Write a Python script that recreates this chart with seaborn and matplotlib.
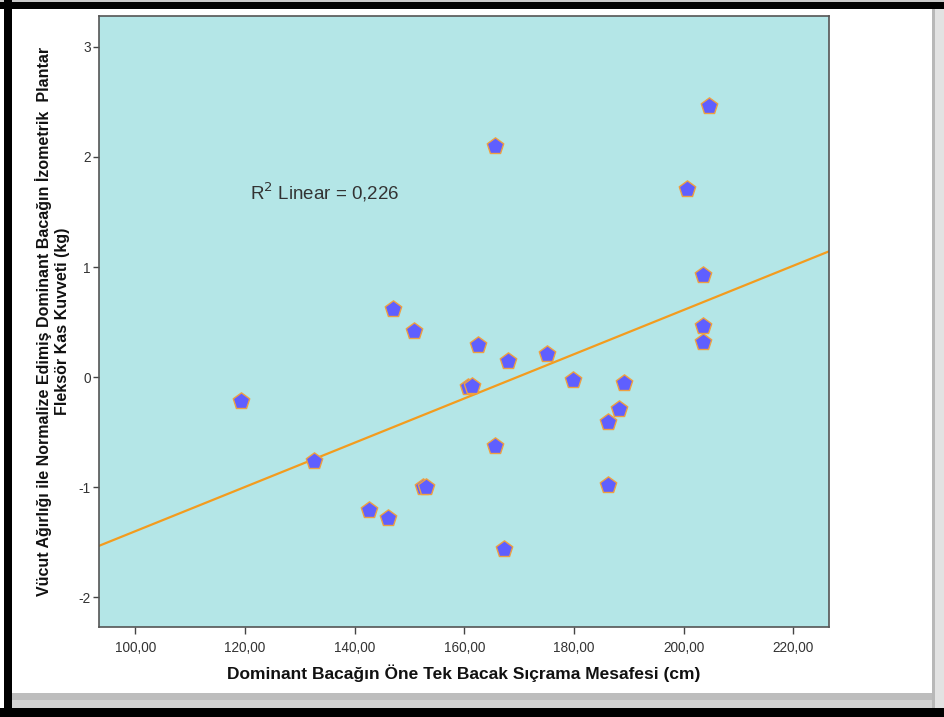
import numpy as np
import pandas as pd
import matplotlib
matplotlib.use("Agg")
import matplotlib.pyplot as plt
from matplotlib.patches import Rectangle
import seaborn as sns

# values
jump_cm = [204.7, 165.6, 200.7, 203.5, 147.0, 150.8, 203.5, 203.6, 162.5, 167.9,
           175.0, 179.8, 189.1, 160.7, 161.4, 119.3, 188.2, 186.2, 165.6, 132.6,
           152.5, 153.0, 186.2, 142.6, 146.1, 167.2]
strength_z = [2.46, 2.10, 1.71, 0.93, 0.62, 0.42, 0.46, 0.32, 0.29, 0.15,
              0.21, -0.03, -0.05, -0.09, -0.08, -0.22, -0.29, -0.41, -0.63, -0.76,
              -1.00, -1.00, -0.98, -1.21, -1.28, -1.56]
x_ticks = [100, 120, 140, 160, 180, 200, 220]
y_ticks = [-2, -1, 0, 1, 2, 3]
x_tick_labels = ["100,00", "120,00", "140,00", "160,00", "180,00", "200,00", "220,00"]
r2_text = "R$^2$ Linear = 0,226"

x_label = "Dominant Bacağın Öne Tek Bacak Sıçrama Mesafesi (cm)"
y_label = "Vücut Ağırlığı ile Normalize Edimiş Dominant Bacağın İzometrik  Plantar\nFleksör Kas Kuvveti (kg)"

df = pd.DataFrame({"jump": jump_cm, "strength": strength_z})

sns.set_style("white")
plt.rcParams["font.family"] = ["Liberation Sans", "DejaVu Sans"]
plt.rcParams["axes.unicode_minus"] = False

fig = plt.figure(figsize=(9.44, 7.17), dpi=100)
fig.patch.set_facecolor("white")

# screenshot frame: black bars, grey drop shadow
W, H = 944.0, 717.0
def rect(x0, y0, x1, y1, color):
    fig.add_artist(Rectangle((x0 / W, 1 - y1 / H), (x1 - x0) / W, (y1 - y0) / H,
                             transform=fig.transFigure, color=color, lw=0, zorder=-5))
rect(0, 0, 944, 1.5, "#c8c8c8")
rect(0, 1.5, 944, 9, "black")
rect(4, 0, 12, 717, "black")
rect(12, 693, 932, 708, "#bdbdbd")
rect(12, 700, 932, 708, "#d2d2d2")
rect(932, 9, 944, 708, "#b8b8b8")
rect(935, 9, 944, 708, "#e2e2e2")
rect(0, 708, 944, 717, "black")

ax = fig.add_axes([99 / W, 1 - 627 / H, (829 - 99) / W, (627 - 16) / H])
ax.set_facecolor("#b4e6e7")
ax.set_xlim(93.4, 226.5)
ax.set_ylim(-2.27, 3.28)

sns.regplot(data=df, x="jump", y="strength", ax=ax, ci=None, truncate=False,
            marker="p",
            scatter_kws=dict(s=155, facecolor="#5f5fff", edgecolor="#f0a040",
                             linewidths=1.0, alpha=1, zorder=3),
            line_kws=dict(color="#f39c1e", lw=1.6, zorder=2))

ax.set_xlim(93.4, 226.5)
ax.set_ylim(-2.27, 3.28)
ax.set_xticks(x_ticks)
ax.set_xticklabels(x_tick_labels)
ax.set_yticks(y_ticks)
ax.tick_params(axis="both", direction="out", length=5, width=1, color="#444444",
               labelsize=9.8, labelcolor="#333333", bottom=True, left=True)
ax.tick_params(axis="x", pad=5)
ax.tick_params(axis="y", pad=2, length=4)
for s in ax.spines.values():
    s.set_color("#555555")
    s.set_linewidth(1.2)

ax.set_xlabel(x_label, fontsize=12.5, fontweight="bold", color="#111111", labelpad=7)
ax.set_ylabel(y_label, fontsize=11.5, fontweight="bold", color="#111111", labelpad=6,
              linespacing=1.25)

ax.text(120.9, 1.68, r2_text, fontsize=13.5, color="#333333", ha="left", va="center")

fig.savefig("out.png", dpi=100)
